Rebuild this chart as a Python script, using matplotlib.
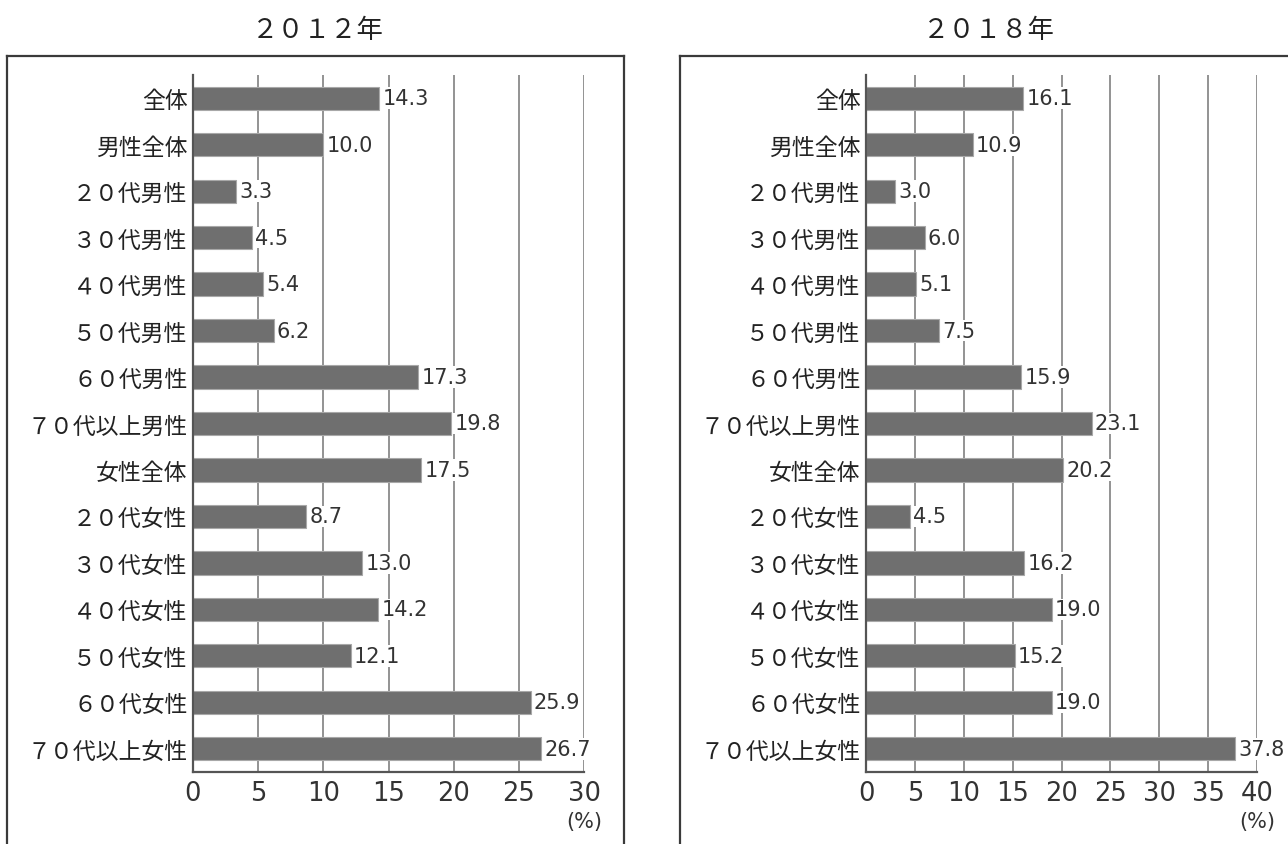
import matplotlib
matplotlib.use("Agg")
import matplotlib.pyplot as plt
from matplotlib.lines import Line2D

plt.rcParams['font.family'] = ['Noto Sans CJK JP', 'DejaVu Sans']

categories = ['全体', '男性全体', '２０代男性', '３０代男性', '４０代男性', '５０代男性',
              '６０代男性', '７０代以上男性', '女性全体', '２０代女性', '３０代女性',
              '４０代女性', '５０代女性', '６０代女性', '７０代以上女性']
values_2012 = [14.3, 10.0, 3.3, 4.5, 5.4, 6.2, 17.3, 19.8, 17.5, 8.7, 13.0, 14.2, 12.1, 25.9, 26.7]
values_2018 = [16.1, 10.9, 3.0, 6.0, 5.1, 7.5, 15.9, 23.1, 20.2, 4.5, 16.2, 19.0, 15.2, 19.0, 37.8]
titles = ['２０１２年', '２０１８年']
xmax_list = [30, 40]

W, H = 1288, 845
fig = plt.figure(figsize=(W / 100, H / 100), dpi=100)
num_font = ['DejaVu Sans']


def px_box(x0, y0, x1, y1):
    # pixel box (top-left origin) -> figure fraction rect
    return [x0 / W, (H - y1) / H, (x1 - x0) / W, (y1 - y0) / H]


def draw_panel(rect, values, xmax, title, title_x, frame):
    ax = fig.add_axes(rect)
    y = list(range(len(categories)))
    for g in range(5, xmax + 1, 5):
        ax.axvline(g, color='#8a8a8a', lw=1.3, zorder=0)
    ax.barh(y, values, height=0.5, color='#6f6f6f', edgecolor='#a8a8a8',
            linewidth=0.8, zorder=2)
    for yi, v in zip(y, values):
        ax.text(v + xmax * 0.008, yi, f'{v:.1f}', va='center', ha='left',
                fontsize=15, color='#333333', family=num_font,
                bbox=dict(facecolor='white', edgecolor='none', pad=0.6), zorder=3)
    ax.set_xlim(0, xmax)
    ax.set_ylim(len(categories) - 0.5, -0.5)
    ax.set_yticks(y)
    ax.set_yticklabels(categories, fontsize=16.5, color='#222222')
    ax.set_xticks(range(0, xmax + 1, 5))
    ax.set_xticklabels([str(t) for t in range(0, xmax + 1, 5)], fontsize=18.5,
                       color='#333333', family=num_font)
    ax.tick_params(axis='both', length=0)
    ax.tick_params(axis='y', pad=4)
    ax.tick_params(axis='x', pad=6)
    for s in ['top', 'right']:
        ax.spines[s].set_visible(False)
    for s in ['left', 'bottom']:
        ax.spines[s].set_color('#555555')
        ax.spines[s].set_linewidth(1.6)
    ax.annotate('(%)', xy=(xmax, 0), xycoords=('data', 'axes fraction'),
                xytext=(0, -35), textcoords='offset points', ha='center', va='center',
                fontsize=15, color='#333333', family=num_font)

    fig.text(title_x / W, (H - 30) / H, title, ha='center', va='center',
             fontsize=19, color='#222222')

    # outer frame around the panel
    fx0, fx1, fy0 = frame
    kw = dict(color='#3a3a3a', lw=1.6, transform=fig.transFigure)
    fig.add_artist(Line2D([fx0 / W, fx1 / W], [(H - fy0) / H] * 2, **kw))
    fig.add_artist(Line2D([fx0 / W] * 2, [(H - fy0) / H, -0.05], **kw))
    fig.add_artist(Line2D([fx1 / W] * 2, [(H - fy0) / H, -0.05], **kw))
    return ax


draw_panel(px_box(193, 76, 584, 773), values_2012, xmax_list[0], titles[0], 318, (7, 624, 57))
draw_panel(px_box(866, 76, 1257, 773), values_2018, xmax_list[1], titles[1], 989, (680, 1297, 57))

fig.savefig('out.png', dpi=100, facecolor='white')
